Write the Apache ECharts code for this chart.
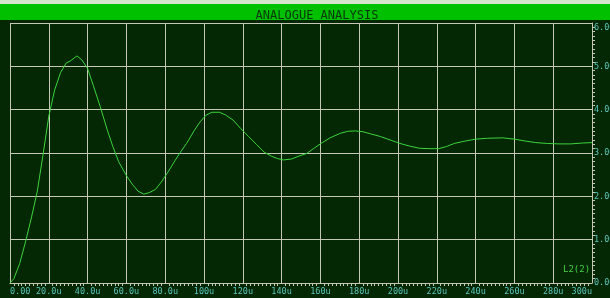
<!DOCTYPE html>
<html>
<head>
<meta charset="utf-8">
<script src="https://cdn.jsdelivr.net/npm/echarts@6/dist/echarts.min.js"></script>
<style>
  html, body { margin: 0; padding: 0; background: #032803; }
  #chart { width: 610px; height: 298px; }
</style>
</head>
<body>
<div id="chart"></div>
<script>
// time in microseconds, voltage of L2(2)
const timeUs = [0, 2, 5, 8, 11, 14, 17, 20, 23, 26, 29, 31, 34.5, 37, 40, 43, 46.5, 50, 53, 56,
  60, 63, 66, 69, 72, 75, 78, 81, 85, 88, 91, 95, 98, 101, 104, 108, 111, 115, 119, 123,
  127, 131, 135, 138, 141, 145, 149, 153, 157, 161, 165, 170, 174, 178, 182, 186, 191, 196, 201, 206,
  211, 216, 221, 225, 229, 234, 240, 246, 254, 260, 265, 271, 277, 283, 289, 295, 300];
const voltage = [0, 0.1, 0.45, 0.95, 1.5, 2.1, 2.95, 3.85, 4.45, 4.85, 5.08, 5.12, 5.24, 5.15, 4.95, 4.55, 4.07, 3.55, 3.15, 2.8,
  2.48, 2.28, 2.12, 2.05, 2.09, 2.16, 2.33, 2.53, 2.82, 3.03, 3.22, 3.52, 3.72, 3.87, 3.94, 3.94, 3.88, 3.76, 3.56, 3.38,
  3.2, 3.02, 2.92, 2.87, 2.84, 2.86, 2.93, 2.99, 3.12, 3.24, 3.35, 3.45, 3.5, 3.51, 3.49, 3.44, 3.38, 3.3, 3.22, 3.16,
  3.11, 3.1, 3.1, 3.15, 3.22, 3.27, 3.32, 3.34, 3.35, 3.32, 3.28, 3.24, 3.22, 3.21, 3.21, 3.23, 3.24];
const seriesName = 'L2(2)';
const chartTitle = 'ANALOGUE ANALYSIS';

const mono = 'DejaVu Sans Mono';
const gridCol = '#c4c8b4';
const labelCol = '#5cc4bc';

const myChart = echarts.init(document.getElementById('chart'));

const option = {
  backgroundColor: '#032803',
  animation: false,
  title: {
    text: chartTitle,
    left: 312,
    textAlign: 'center',
    top: 5,
    textStyle: { color: '#0a360a', fontSize: 12, fontFamily: mono, fontWeight: 'normal' }
  },
  graphic: [
    { type: 'rect', z: -1, shape: { x: 0, y: 0, width: 610, height: 4 }, style: { fill: '#d6e4cc' } },
    { type: 'rect', z: -1, shape: { x: 0, y: 4, width: 610, height: 16 }, style: { fill: '#00c000' } },
    {
      type: 'text', left: 563, top: 265, z: 10,
      style: { text: seriesName, fill: '#44d044', font: '9px "' + mono + '"' }
    }
  ],
  grid: { left: 10, top: 23, width: 582, height: 260, show: false, outerBoundsMode: 'none', containLabel: false },
  xAxis: {
    type: 'value', min: 0, max: 300, interval: 20,
    axisLine: { show: true, onZero: false, lineStyle: { color: gridCol, width: 1 } },
    axisTick: { show: false },
    minorTick: { show: true, splitNumber: 10, length: 3, inside: true, lineStyle: { color: gridCol } },
    splitLine: { show: true, lineStyle: { color: gridCol, width: 1 } },
    axisLabel: {
      color: labelCol, fontFamily: mono, fontSize: 8.5, margin: 4,
      alignMinLabel: 'left', alignMaxLabel: 'right',
      formatter: v => v === 0 ? '0.00' : (v < 100 ? v.toFixed(1) + 'u' : v + 'u')
    }
  },
  yAxis: {
    type: 'value', position: 'right', min: 0, max: 6, interval: 1,
    axisLine: { show: true, onZero: false, lineStyle: { color: gridCol, width: 1 } },
    axisTick: { show: false },
    minorTick: { show: true, splitNumber: 10, length: 3, inside: true, lineStyle: { color: gridCol } },
    splitLine: { show: true, lineStyle: { color: gridCol, width: 1 } },
    axisLabel: {
      color: labelCol, fontFamily: mono, fontSize: 8.5, margin: 2, align: 'left',
      verticalAlignMaxLabel: 'top',
      formatter: v => v.toFixed(2)
    }
  },
  series: [{
    name: seriesName,
    type: 'line',
    data: timeUs.map((t, i) => [t, voltage[i]]),
    showSymbol: false,
    smooth: false,
    lineStyle: { color: '#3ed43e', width: 1 },
    z: 5
  }]
};

myChart.setOption(option);
</script>
</body>
</html>
